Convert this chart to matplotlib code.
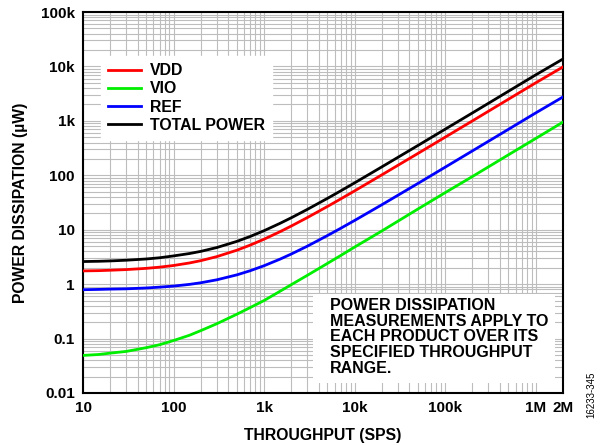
import matplotlib
matplotlib.use("Agg")
import matplotlib.pyplot as plt
from matplotlib.patches import Rectangle
from matplotlib.ticker import LogLocator, NullFormatter, FixedLocator

plt.rcParams['font.family'] = ['Liberation Sans', 'DejaVu Sans']

# throughput (SPS) and power dissipation (uW)
throughput = [10, 15, 20, 30, 50, 70, 100, 150, 200, 300, 500, 700,
              1e3, 1.5e3, 2e3, 3e3, 5e3, 7e3, 1e4, 2e4, 5e4,
              1e5, 2e5, 5e5, 1e6, 2e6]
vdd = [1.75, 1.77, 1.8, 1.85, 1.95, 2.05, 2.2, 2.45, 2.7, 3.2, 4.2, 5.2,
       6.7, 9.2, 11.7, 16.7, 26.7, 36.7, 51.7, 102, 252,
       502, 1000, 2500, 5000, 9800]
vio = [0.049, 0.051, 0.054, 0.058, 0.068, 0.077, 0.092, 0.115, 0.14, 0.187, 0.28, 0.37,
       0.5, 0.74, 0.98, 1.45, 2.4, 3.35, 4.8, 9.5, 24,
       48, 95, 238, 475, 950]
ref = [0.79, 0.8, 0.81, 0.82, 0.85, 0.88, 0.92, 0.99, 1.06, 1.2, 1.48, 1.76,
       2.18, 2.88, 3.58, 4.98, 7.8, 10.6, 14.8, 28.8, 70.8,
       141, 281, 700, 1400, 2750]
total = [2.6, 2.63, 2.67, 2.75, 2.9, 3.05, 3.3, 3.65, 4.0, 4.7, 6.1, 7.5,
         9.6, 13.1, 16.6, 23.6, 37.6, 51.6, 72.6, 143, 353,
         703, 1400, 3500, 7000, 13700]

series = [('VDD', vdd, '#ff0000'), ('VIO', vio, '#00ee00'),
          ('REF', ref, '#0000ff'), ('TOTAL POWER', total, '#000000')]

xticks = [10, 100, 1e3, 1e4, 1e5, 1e6, 2e6]
xlabels = ['10', '100', '1k', '10k', '100k', '1M', '2M']
yticks = [0.01, 0.1, 1, 10, 100, 1e3, 1e4, 1e5]
ylabels = ['0.01', '0.1', '1', '10', '100', '1k', '10k', '100k']

fig = plt.figure(figsize=(6.02, 4.45), dpi=100)
ax = fig.add_axes([0.1379, 0.1169, 0.7973, 0.8561])

for name, vals, col in series:
    ax.plot(throughput, vals, color=col, lw=2.0, label=name, zorder=3)

ax.set_xscale('log')
ax.set_yscale('log')
ax.set_xlim(10, 2e6)
ax.set_ylim(0.01, 1e5)

ax.xaxis.set_major_locator(FixedLocator(xticks))
ax.set_xticklabels(xlabels)
ax.xaxis.set_minor_locator(LogLocator(base=10, subs=range(2, 10), numticks=20))
ax.xaxis.set_minor_formatter(NullFormatter())
ax.yaxis.set_major_locator(FixedLocator(yticks))
ax.set_yticklabels(ylabels)
ax.yaxis.set_minor_locator(LogLocator(base=10, subs=range(2, 10), numticks=20))
ax.yaxis.set_minor_formatter(NullFormatter())

ax.grid(True, which='both', color='#bdbdbd', lw=0.8, zorder=0)
ax.tick_params(which='both', length=0, pad=6)
for lab in ax.get_xticklabels() + ax.get_yticklabels():
    lab.set_fontweight('bold')
    lab.set_fontsize(11)
for sp in ax.spines.values():
    sp.set_linewidth(1.5)

ax.set_xlabel('THROUGHPUT (SPS)', fontsize=11.3, fontweight='bold', labelpad=9)
ax.set_ylabel('POWER DISSIPATION (µW)', fontsize=11.3, fontweight='bold', labelpad=9)

leg = ax.legend(loc='upper left', bbox_to_anchor=(0.02, 0.905), frameon=True,
                fancybox=False, edgecolor='white', framealpha=1,
                prop={'weight': 'bold', 'size': 11.4}, handlelength=2.1,
                handletextpad=0.57, labelspacing=0.2, borderpad=0.45)
leg.set_zorder(6)

# note box in the lower right
ax.add_patch(Rectangle((0.479, 0.026), 0.504, 0.234, transform=ax.transAxes,
                       facecolor='white', edgecolor='none', zorder=5))
ax.text(0.515, 0.147, 'POWER DISSIPATION\nMEASUREMENTS APPLY TO\nEACH PRODUCT OVER ITS\n'
        'SPECIFIED THROUGHPUT\nRANGE.', transform=ax.transAxes, fontsize=11.5,
        fontweight='bold', va='center', ha='left', linespacing=1.08, zorder=6)

fig.text(0.982, 0.06, '16233-345', rotation=90, fontsize=7, ha='center', va='bottom')

fig.savefig('out.png', dpi=100)
